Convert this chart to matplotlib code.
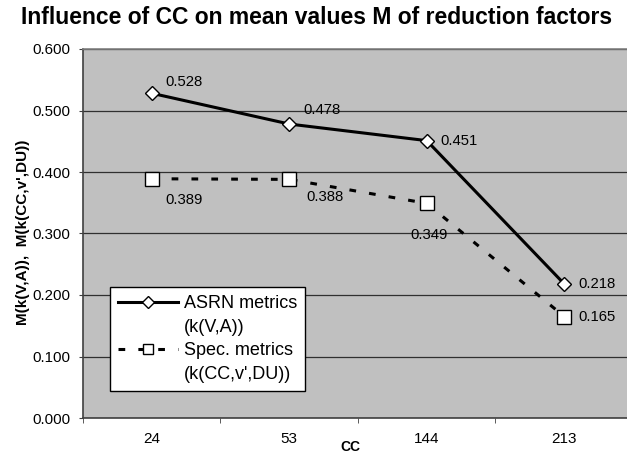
import numpy as np
import matplotlib
matplotlib.use("Agg")
import matplotlib.pyplot as plt
from matplotlib.lines import Line2D

plt.rcParams['font.family'] = ['Liberation Sans', 'DejaVu Sans']

categories = ['24', '53', '144', '213']
asrn = [0.528, 0.478, 0.451, 0.218]
spec = [0.389, 0.388, 0.349, 0.165]

W, H = 627, 454
fig = plt.figure(figsize=(W / 100, H / 100), dpi=100)
ax = fig.add_axes([83/W, (H - 418)/H, 550/W, 369/H])
ax.set_facecolor('#c0c0c0')

x = np.arange(len(categories))
l1, = ax.plot(x, asrn, color='black', lw=2.2, marker='D', ms=7.5, mfc='white', mec='black',
              mew=1, zorder=3)
l2, = ax.plot(x, spec, color='black', lw=2.2, ls=(0, (2.2, 4.3)), marker='s', ms=10.5,
              mfc='white', mec='black', mew=1, zorder=3)

# value labels (offsets in points)
off_a = [(10, 8), (10, 10), (10, 0), (10, 0)]
for i, v in enumerate(asrn):
    ax.annotate('%.3f' % v, (x[i], v), xytext=off_a[i], textcoords='offset points',
                ha='left', va='center', fontsize=10.7)
off_s = [(10, -15), (12, -13), (-12, -23), (10, 0)]
for i, v in enumerate(spec):
    ax.annotate('%.3f' % v, (x[i], v), xytext=off_s[i], textcoords='offset points',
                ha='left', va='center', fontsize=10.7)

ax.set_xlim(-0.5, 3.5)
ax.set_ylim(0, 0.6)
ax.set_yticks(np.arange(0, 0.61, 0.1))
ax.yaxis.set_major_formatter(matplotlib.ticker.FormatStrFormatter('%.3f'))
ax.grid(axis='y', color='#303030', lw=0.9)
ax.set_axisbelow(True)
ax.set_xticks(x)
ax.set_xticklabels(categories)
ax.set_xticks(np.arange(-0.5, 3.6, 1), minor=True)
ax.tick_params(axis='x', which='major', length=0, pad=10, labelsize=11)
ax.tick_params(axis='x', which='minor', length=3.5, direction='out', color='#404040')
ax.tick_params(axis='y', length=3, direction='out', labelsize=10.8, pad=6, color='#404040')
for s in ax.spines.values():
    s.set_color('#808080')
    s.set_linewidth(1.2)
ax.spines['left'].set_color('#404040')
ax.spines['bottom'].set_color('#404040')

fig.text(350/W, 1 - 447/H, 'CC', ha='center', va='center', fontsize=10, fontweight='bold')
fig.text(23/W, 1 - 232/H, 'M(k(V,A)),  M(k(CC,v\',DU))', rotation=90, ha='center',
         va='center', fontsize=11, fontweight='bold')
fig.text(317/W, 1 - 17/H, 'Influence of CC on mean values M of reduction factors',
         ha='center', va='center', fontsize=16.5, fontweight='bold')

blank = Line2D([], [], lw=0)
leg = ax.legend([l1, blank, l2, blank],
                ['ASRN metrics', '(k(V,A))', 'Spec. metrics', '(k(CC,v\',DU))'],
                loc='lower left', bbox_to_anchor=((110 - 83)/550, (418 - 391)/369),
                borderaxespad=0, fontsize=13, frameon=True, fancybox=False,
                edgecolor='black', framealpha=1, handlelength=3.3, borderpad=0.45,
                labelspacing=0.36, handletextpad=0.35, markerscale=0.75)
leg.get_frame().set_linewidth(1)

fig.savefig('out.png', dpi=100)
